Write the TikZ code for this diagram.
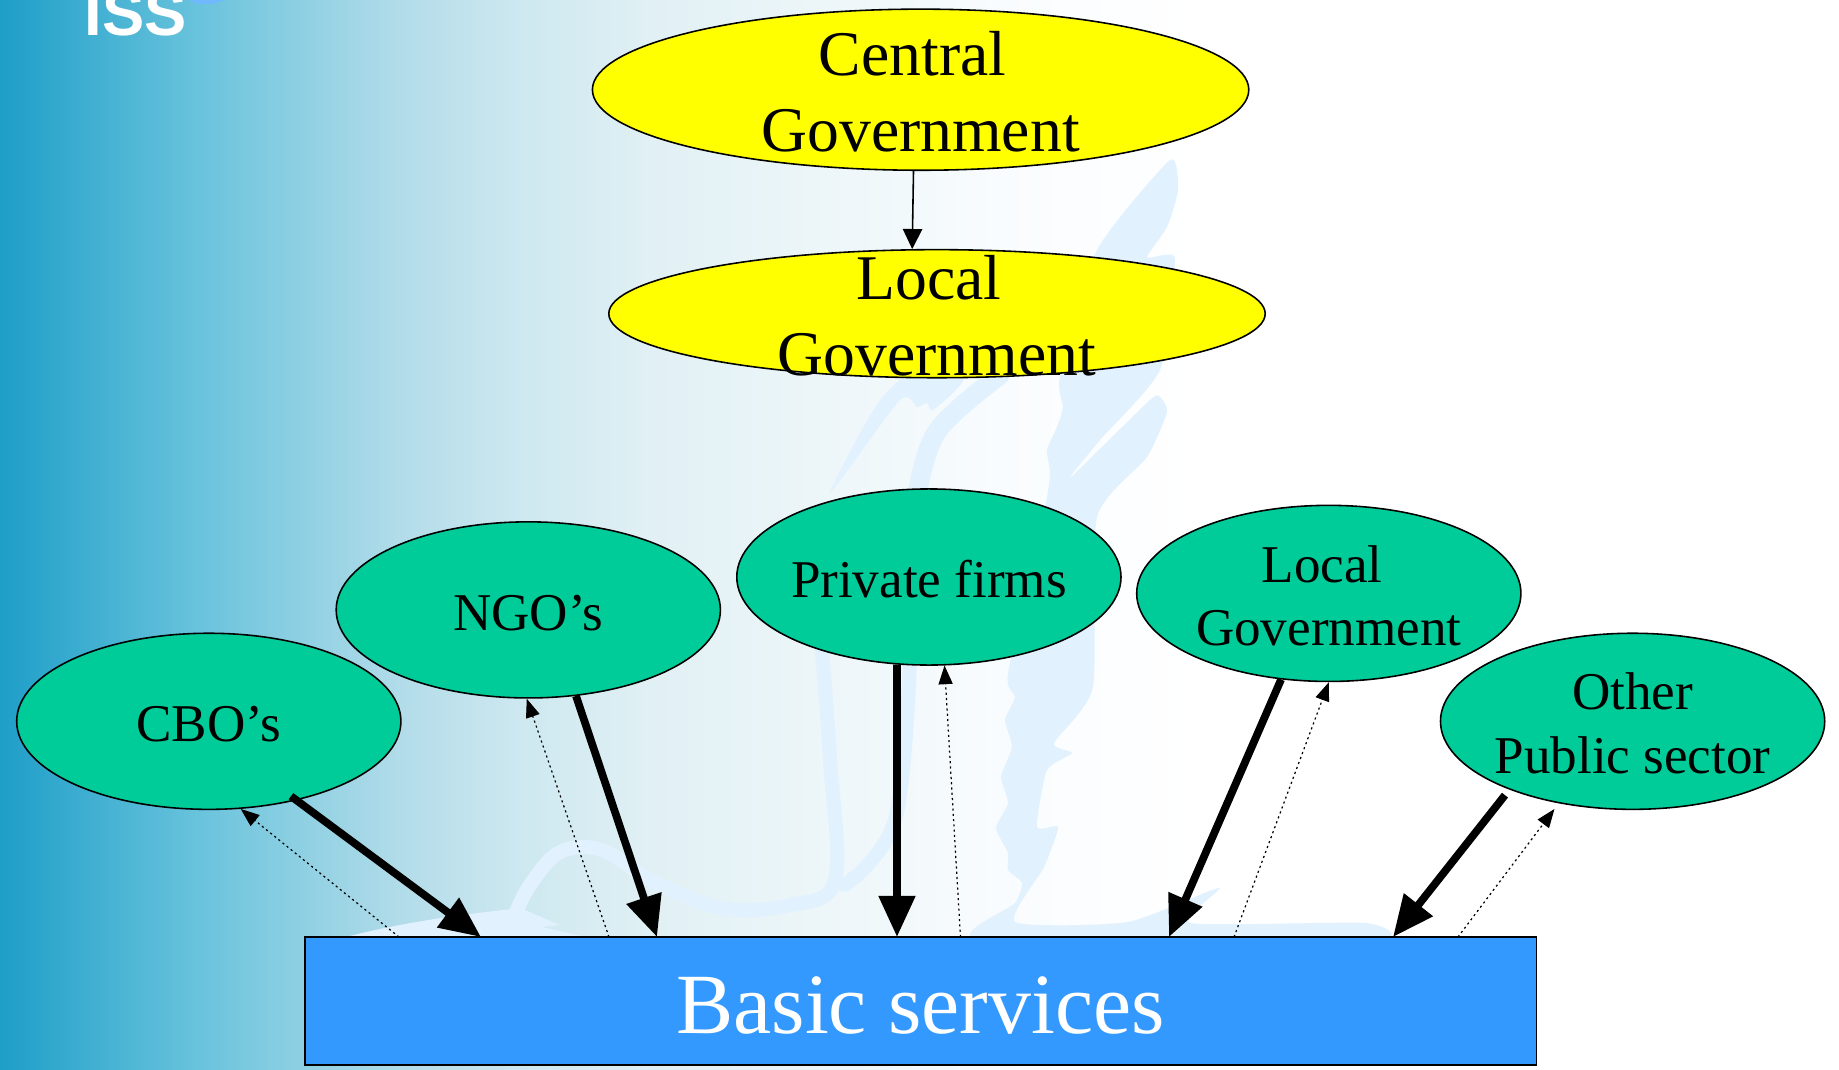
\documentclass[tikz,border=0pt]{standalone}
\usepackage{fontspec}
\setmainfont{Liberation Serif}
\newfontfamily\logofont{Liberation Sans}
\usetikzlibrary{shapes.geometric,arrows.meta}
\definecolor{fadea}{RGB}{30,158,200}
\definecolor{fadeb}{RGB}{105,195,220}
\definecolor{fadec}{RGB}{178,220,233}
\definecolor{fadem}{RGB}{205,232,240}
\definecolor{faded}{RGB}{225,240,244}
\definecolor{fadee}{RGB}{249,252,254}
\definecolor{wingblue}{RGB}{226,241,254}
\definecolor{govyellow}{RGB}{255,255,0}
\definecolor{actorgreen}{RGB}{0,204,153}
\definecolor{serviceblue}{RGB}{51,153,255}
\pgfdeclarehorizontalshading{bgfade}{100bp}{color(0bp)=(fadea); color(25bp)=(fadea); color(30.4bp)=(fadeb); color(35.9bp)=(fadec); color(39.1bp)=(fadem); color(42.7bp)=(faded); color(52.2bp)=(fadee); color(57.6bp)=(white); color(100bp)=(white)}
\newcommand{\govlift}{\rule{0pt}{13.7pt}}
\newcommand{\actorlift}{\rule{0pt}{11.7pt}}
\tikzset{
  govnode/.style={draw, ellipse, fill=govyellow, line width=.45pt, inner sep=-10pt, minimum width=6.56cm, align=center, font=\fontsize{18.1}{21.6}\selectfont},
  actor/.style={draw, ellipse, fill=actorgreen, line width=.45pt, inner sep=-3pt, minimum width=3.84cm, minimum height=1.76cm, align=center, font=\fontsize{15.1}{18}\selectfont},
  heavy/.style={line width=2.2pt, -{Triangle[width=10pt,length=11.7pt]}},
  thin back/.style={line width=.35pt, dash pattern=on .6pt off .9pt, -{Triangle[width=4pt,length=5.3pt]}},
  wing/.style={fill=wingblue, draw=none},
  wingband/.style={draw=wingblue, line cap=round, line join=round}
}
\begin{document}
\begin{tikzpicture}[x=0.01cm,y=-0.01cm]
  \useasboundingbox (0,0) rectangle (1839,1070);
  \clip (0,0) rectangle (1839,1070);
  \shade[shading=bgfade] (0,0) rectangle (1839,1070);
  \fill[wing] plot[smooth cycle,tension=.35] coordinates {(1170,160) (1178,190) (1167,227) (1147,257) (1165,255) (1175,262) (1160,370) (1100,440) (1070,478) (1150,400) (1160,397) (1167,412) (1147,457) (1097,517) (1093,687) (1054,743) (1072,753) (1047,770) (1037,827) (1058,827) (1044,867) (1015,922) (1128,922) (1219,888) (1191,923) (1366,923) (1373,940) (980,940) (1015,903) (1022,883) (1008,870) (1008,853) (996,828) (1008,803) (1001,777) (1012,747) (1005,720) (1015,697) (1008,673) (1045,507) (1050,473) (1047,450) (1057,427) (1063,407) (1060,377) (1097,250)};
  \fill[wing] plot[smooth cycle,tension=.4] coordinates {(830,493) (900,400) (917,407) (927,403) (933,410) (963,380) (940,350) (880,400)};
  \draw[wingband,line width=5.5] plot[smooth,tension=.6] coordinates {(918,490) (938,430) (1000,375)};
  \draw[wingband,line width=4] plot[smooth,tension=.6] coordinates {(822,650) (830,760) (835,880) (790,905) (721,908) (651,880) (602,850) (560,852) (530,885) (515,915)};
  \draw[wingband,line width=4] plot[smooth,tension=.6] coordinates {(910,660) (895,820) (845,885)};
  \fill[wing] (335,940) .. controls (400,922) and (460,915) .. (520,908) -- (560,925) -- (542,927) -- (600,940) -- cycle;
  \node[white, font=\logofont\bfseries\fontsize{18}{18}\selectfont, anchor=base] (isslogo) at (136,36) {ISS};
  \fill[serviceblue!70] (190,0) -- (225,0) -- (212,4) -- (197,4) -- cycle;
  \node[govnode, minimum height=1.61cm] (central) at (920.6,89.7) {\govlift Central\hspace*{.25em}\\Government};
  \node[govnode, minimum height=1.28cm] (localtop) at (937,313.7) {\govlift Local\hspace*{.25em}\\Government};
  \node[actor] (cbo) at (208.8,721.3) {\actorlift CBO’s};
  \node[actor] (ngo) at (528.3,609.9) {\actorlift NGO’s};
  \node[actor] (firms) at (928.9,577) {\actorlift Private firms};
  \node[actor] (localgov) at (1328.8,593.4) {\actorlift Local\hspace*{.25em}\\Government};
  \node[actor] (other) at (1632.6,721.3) {\actorlift Other\\Public sector};
  \node[draw, fill=serviceblue, line width=.55pt, text=white, inner sep=0pt, minimum width=12.31cm, minimum height=1.28cm, font=\fontsize{24.4}{28}\selectfont] (basic) at (920.6,1001) {\rule{0pt}{18.9pt}Basic services};
  \draw[line width=.45pt, -{Triangle[width=5.5pt,length=5.7pt]}] (central.-95.85) -- (localtop.111);
  \coordinate (ina) at (481,937);
  \coordinate (inb) at (657,937);
  \coordinate (inc) at (897,937);
  \coordinate (ind) at (1169,937);
  \coordinate (ine) at (1393,937);
  \coordinate (outa) at (399,937);
  \coordinate (outb) at (609,937);
  \coordinate (outc) at (960.5,937);
  \coordinate (outd) at (1234,937);
  \coordinate (oute) at (1458,937);
  \draw[heavy, shorten <=-2pt] (cbo.-42) -- (ina);
  \draw[heavy] (ngo.-61.6) -- (inb);
  \draw[heavy] (firms.-110.5) -- (inc);
  \draw[heavy] (localgov.-119.5) -- (ind);
  \draw[heavy, shorten <=2pt] (other.-151.7) -- (ine);
  \draw[thin back] (outa) -- (cbo.-70.2);
  \draw[thin back] (outb) -- (ngo.-91);
  \draw[thin back] (outc) -- (firms.-80.9);
  \draw[thin back] (outd) -- (localgov.-90);
  \draw[thin back, shorten >=2pt] (oute) -- (other.-132.2);
\end{tikzpicture}
\end{document}
